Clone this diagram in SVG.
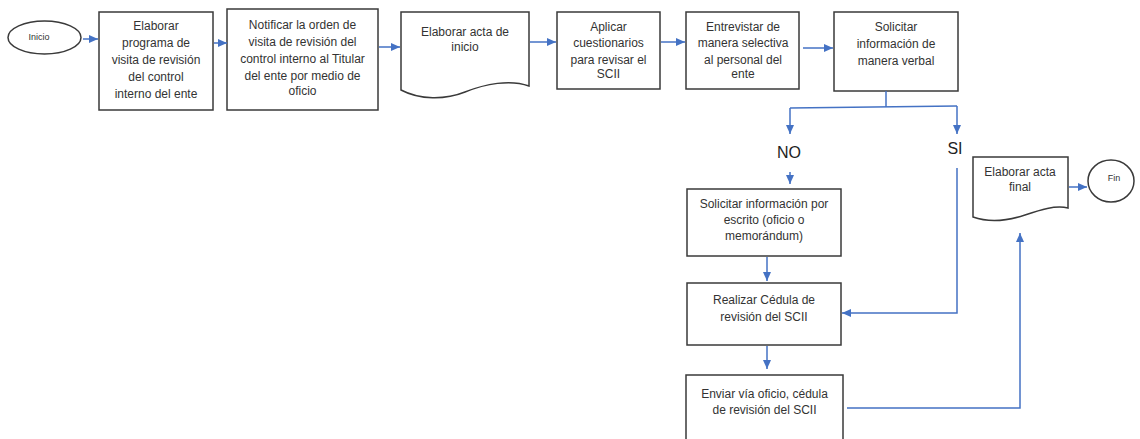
<svg xmlns="http://www.w3.org/2000/svg" width="1140" height="439" viewBox="0 0 1140 439">
<defs>
<marker id="arr" viewBox="0 0 9 8" refX="9" refY="4" markerWidth="9" markerHeight="8" markerUnits="userSpaceOnUse" orient="auto">
<path d="M0,0 L9,4 L0,8 z" fill="#4472C4"/>
</marker>
<style>
.box{fill:#fff;stroke:#3a3a3a;stroke-width:1.5}
.t{font-family:"Liberation Sans",Arial,sans-serif;font-size:12px;fill:#333;text-anchor:middle}
.s{font-family:"Liberation Sans",Arial,sans-serif;font-size:9px;fill:#333;text-anchor:middle}
.big{font-family:"Liberation Sans",Arial,sans-serif;font-size:16px;fill:#222;text-anchor:middle}
.c{fill:none;stroke:#4472C4;stroke-width:1.5}
</style>
</defs>
<rect width="1140" height="439" fill="#fff"/>

<g id="inicio">
<ellipse class="box" cx="44.5" cy="37.5" rx="36.5" ry="16.5"/>
<text class="s" x="39" y="40">Inicio</text>
</g>

<g id="n1">
<rect class="box" x="99" y="12" width="114" height="98"/>
<text class="t" x="156" y="30">Elaborar</text>
<text class="t" x="156" y="47">programa de</text>
<text class="t" x="156" y="64">visita de revisión</text>
<text class="t" x="156" y="81">del control</text>
<text class="t" x="156" y="98">interno del ente</text>
</g>

<g id="n2">
<rect class="box" x="227" y="9" width="151" height="101"/>
<text class="t" x="302.5" y="29">Notificar la orden de</text>
<text class="t" x="302.5" y="46">visita de revisión del</text>
<text class="t" x="302.5" y="63">control interno al Titular</text>
<text class="t" x="302.5" y="80">del ente por medio de</text>
<text class="t" x="302.5" y="95">oficio</text>
</g>

<g id="n3">
<path class="box" d="M401,12 H529 V86 C510,79 485,84 465,92 C445,100 420,100 401,90 Z"/>
<text class="t" x="465" y="36">Elaborar acta de</text>
<text class="t" x="465" y="51">inicio</text>
</g>

<g id="n4">
<rect class="box" x="557" y="12" width="103" height="77"/>
<text class="t" x="608.5" y="31">Aplicar</text>
<text class="t" x="608.5" y="47">cuestionarios</text>
<text class="t" x="608.5" y="64">para revisar el</text>
<text class="t" x="608.5" y="78">SCII</text>
</g>

<g id="n5">
<rect class="box" x="686" y="12" width="113" height="77"/>
<text class="t" x="743" y="31">Entrevistar de</text>
<text class="t" x="743" y="47">manera selectiva</text>
<text class="t" x="743" y="64">al personal del</text>
<text class="t" x="743" y="78">ente</text>
</g>

<g id="n6">
<rect class="box" x="834" y="12" width="124" height="79"/>
<text class="t" x="896" y="31">Solicitar</text>
<text class="t" x="896" y="48">información de</text>
<text class="t" x="896" y="65">manera verbal</text>
</g>

<g id="lblNO"><text class="big" x="789" y="158">NO</text></g>
<g id="lblSI"><text class="big" x="955" y="154">SI</text></g>

<g id="n7">
<rect class="box" x="687" y="189" width="154" height="67"/>
<text class="t" x="764" y="208">Solicitar información por</text>
<text class="t" x="764" y="224">escrito (oficio o</text>
<text class="t" x="764" y="240">memorándum)</text>
</g>

<g id="n8">
<rect class="box" x="687" y="283" width="154" height="62"/>
<text class="t" x="764" y="304">Realizar Cédula de</text>
<text class="t" x="764" y="321">revisión del SCII</text>
</g>

<g id="n9">
<rect class="box" x="686" y="375" width="157" height="70"/>
<text class="t" x="764.5" y="398">Enviar vía oficio, cédula</text>
<text class="t" x="764.5" y="414">de revisión del SCII</text>
</g>

<g id="n10">
<path class="box" d="M973,157 H1068 V208 C1055,205 1040,210 1025,215 C1010,220 990,223 973,217 Z"/>
<text class="t" x="1020" y="176">Elaborar acta</text>
<text class="t" x="1020" y="191">final</text>
</g>

<g id="fin">
<ellipse class="box" cx="1111" cy="181" rx="23" ry="21"/>
<text class="s" x="1114" y="181">Fin</text>
</g>

<g id="connectors">
<path class="c" d="M83,39 H98" marker-end="url(#arr)"/>
<path class="c" d="M214,43 H227" marker-end="url(#arr)"/>
<path class="c" d="M379,47 H400" marker-end="url(#arr)"/>
<path class="c" d="M530,42 H556" marker-end="url(#arr)"/>
<path class="c" d="M661,42 H685" marker-end="url(#arr)"/>
<path class="c" d="M803,48 H833" marker-end="url(#arr)"/>
<path class="c" d="M886,91 V107"/>
<path class="c" d="M790,108 L957,106"/>
<path class="c" d="M790,108 V134" marker-end="url(#arr)"/>
<path class="c" d="M957,106 V134" marker-end="url(#arr)"/>
<path class="c" d="M790,172 V184" marker-end="url(#arr)"/>
<path class="c" d="M767,257 V281" marker-end="url(#arr)"/>
<path class="c" d="M767,346 V369" marker-end="url(#arr)"/>
<path class="c" d="M957,168 V313 H842" marker-end="url(#arr)"/>
<path class="c" d="M847,408 H1020 V233" marker-end="url(#arr)"/>
<path class="c" d="M1069,187 H1087" marker-end="url(#arr)"/>
</g>
</svg>
